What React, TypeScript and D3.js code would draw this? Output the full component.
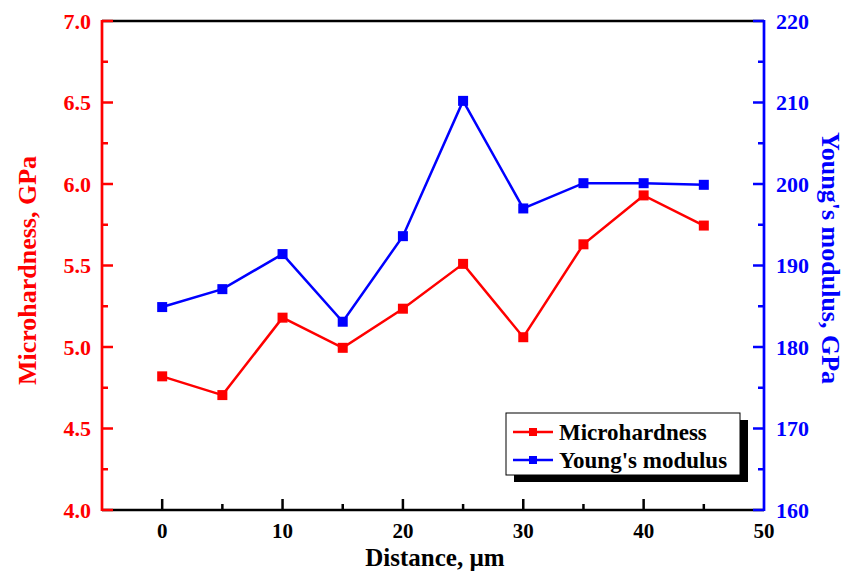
import { useEffect, useRef } from 'react';
import * as d3 from 'd3';

// distance, µm
const distance = [0, 5, 10, 15, 20, 25, 30, 35, 40, 45];
// microhardness, GPa (left axis)
const hardness = [4.82, 4.705, 5.18, 4.995, 5.235, 5.51, 5.06, 5.63, 5.93, 5.745];
// young's modulus, GPa (right axis)
const modulus = [184.9, 187.1, 191.4, 183.1, 193.6, 210.2, 197.0, 200.1, 200.1, 199.9];

const xTicks = [0, 10, 20, 30, 40, 50];
const leftTicks = [4.0, 4.5, 5.0, 5.5, 6.0, 6.5, 7.0];
const rightTicks = [160, 170, 180, 190, 200, 210, 220];

const RED = '#ff0000';
const BLUE = '#0000ff';
const FONT = '"Liberation Serif", "Times New Roman", serif';

export default function App() {
  const ref = useRef<SVGSVGElement>(null);

  useEffect(() => {
    const svg = d3.select(ref.current);
    svg.selectAll('*').remove();

    const left = 102, right = 764, top = 21, bottom = 510;

    const x = d3.scaleLinear().domain([-5, 50]).range([left, right]);
    const yL = d3.scaleLinear().domain([4, 7]).range([bottom, top]);
    const yR = d3.scaleLinear().domain([160, 220]).range([bottom, top]);

    svg.append('rect').attr('width', 847).attr('height', 571).attr('fill', '#fff');

    // top frame line
    svg.append('line')
      .attr('x1', left).attr('x2', right).attr('y1', top).attr('y2', top)
      .attr('stroke', '#000').attr('stroke-width', 2.7);

    // bottom axis
    svg.append('line')
      .attr('x1', left).attr('x2', right).attr('y1', bottom).attr('y2', bottom)
      .attr('stroke', '#000').attr('stroke-width', 2.7);
    d3.range(0, 50, 5).forEach(v => {
      const major = v % 10 === 0;
      svg.append('line')
        .attr('x1', x(v)).attr('x2', x(v))
        .attr('y1', bottom).attr('y2', bottom - (major ? 11 : 6))
        .attr('stroke', '#000').attr('stroke-width', 2.5);
    });
    xTicks.forEach(v => {
      svg.append('text')
        .attr('x', x(v)).attr('y', 538)
        .attr('text-anchor', 'middle')
        .style('font-family', FONT).style('font-weight', 'bold').style('font-size', '21px')
        .attr('fill', '#000')
        .text(v);
    });
    svg.append('text')
      .attr('x', 435).attr('y', 566)
      .attr('text-anchor', 'middle')
      .style('font-family', FONT).style('font-weight', 'bold').style('font-size', '25px')
      .attr('fill', '#000')
      .text('Distance, µm');

    // left axis (red)
    svg.append('line')
      .attr('x1', left).attr('x2', left).attr('y1', top - 1).attr('y2', bottom + 1)
      .attr('stroke', RED).attr('stroke-width', 2.7);
    d3.range(4, 7.0001, 0.25).forEach(v => {
      const major = Math.abs(v * 2 - Math.round(v * 2)) < 1e-6;
      svg.append('line')
        .attr('x1', left).attr('x2', left + (major ? 11 : 6))
        .attr('y1', yL(v)).attr('y2', yL(v))
        .attr('stroke', RED).attr('stroke-width', 2.5);
    });
    leftTicks.forEach(v => {
      svg.append('text')
        .attr('x', 91).attr('y', yL(v)).attr('dy', '0.35em')
        .attr('text-anchor', 'end')
        .style('font-family', FONT).style('font-weight', 'bold').style('font-size', '22px')
        .attr('fill', RED)
        .text(v.toFixed(1));
    });
    svg.append('text')
      .attr('transform', `translate(36,${(top + bottom) / 2 + 5}) rotate(-90)`)
      .attr('text-anchor', 'middle')
      .style('font-family', FONT).style('font-weight', 'bold').style('font-size', '26px')
      .attr('fill', RED)
      .text('Microhardness, GPa');

    // right axis (blue)
    svg.append('line')
      .attr('x1', right).attr('x2', right).attr('y1', top - 1).attr('y2', bottom + 1)
      .attr('stroke', BLUE).attr('stroke-width', 2.7);
    d3.range(160, 220.001, 5).forEach(v => {
      const major = v % 10 === 0;
      svg.append('line')
        .attr('x1', right).attr('x2', right - (major ? 11 : 6))
        .attr('y1', yR(v)).attr('y2', yR(v))
        .attr('stroke', BLUE).attr('stroke-width', 2.5);
    });
    rightTicks.forEach(v => {
      svg.append('text')
        .attr('x', 776).attr('y', yR(v)).attr('dy', '0.35em')
        .attr('text-anchor', 'start')
        .style('font-family', FONT).style('font-weight', 'bold').style('font-size', '22px')
        .attr('fill', BLUE)
        .text(v);
    });
    svg.append('text')
      .attr('transform', `translate(822,258) rotate(90)`)
      .attr('text-anchor', 'middle')
      .style('font-family', FONT).style('font-weight', 'bold').style('font-size', '26px')
      .attr('fill', BLUE)
      .text("Young's modulus, GPa");

    // series
    const series = [
      { vals: hardness, y: yL, color: RED },
      { vals: modulus, y: yR, color: BLUE },
    ];
    series.forEach(s => {
      const line = d3.line<number>()
        .x((_, i) => x(distance[i]))
        .y(d => s.y(d));
      svg.append('path')
        .attr('d', line(s.vals))
        .attr('fill', 'none')
        .attr('stroke', s.color)
        .attr('stroke-width', 2.5);
      svg.selectAll(null).data(s.vals).enter()
        .append('rect')
        .attr('x', (_, i) => x(distance[i]) - 5)
        .attr('y', d => s.y(d) - 5)
        .attr('width', 10).attr('height', 10)
        .attr('fill', s.color);
    });

    // legend with drop shadow
    const lx = 506, ly = 413, lw = 234, lh = 62;
    svg.append('rect')
      .attr('x', lx + 8).attr('y', ly + 7).attr('width', lw).attr('height', lh)
      .attr('fill', '#000');
    svg.append('rect')
      .attr('x', lx).attr('y', ly).attr('width', lw).attr('height', lh)
      .attr('fill', '#fff').attr('stroke', '#000').attr('stroke-width', 1);
    const items = [
      { label: 'Microhardness', color: RED, y: 432 },
      { label: "Young's modulus", color: BLUE, y: 460 },
    ];
    items.forEach(it => {
      svg.append('line')
        .attr('x1', 513).attr('x2', 553).attr('y1', it.y).attr('y2', it.y)
        .attr('stroke', it.color).attr('stroke-width', 2.5);
      svg.append('rect')
        .attr('x', 529).attr('y', it.y - 4).attr('width', 8).attr('height', 8)
        .attr('fill', it.color);
      svg.append('text')
        .attr('x', 559).attr('y', it.y).attr('dy', '0.35em')
        .style('font-family', FONT).style('font-weight', 'bold').style('font-size', '23px')
        .attr('fill', '#000')
        .text(it.label);
    });
  }, []);

  return (
    <svg
      ref={ref}
      width={847}
      height={571}
      style={{ position: 'absolute', left: 0, top: 0, display: 'block' }}
    />
  );
}
